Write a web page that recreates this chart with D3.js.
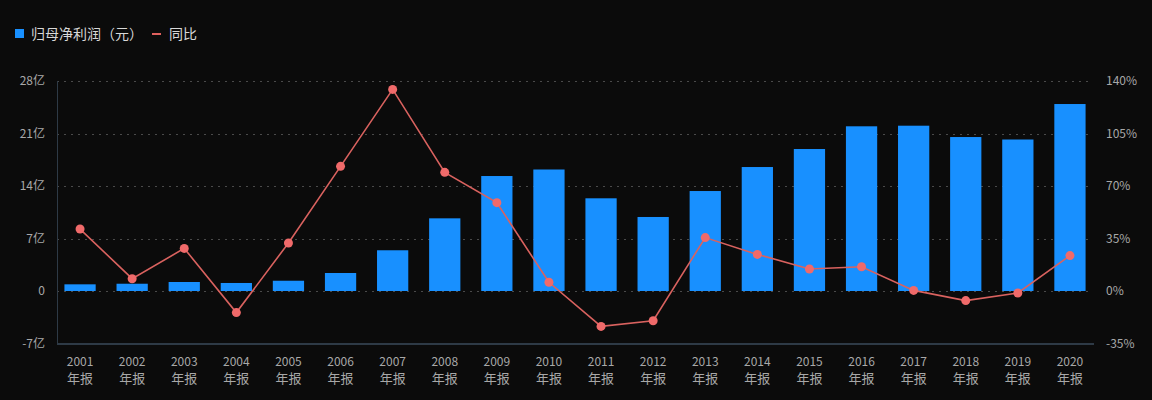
<!DOCTYPE html>
<html><head><meta charset="utf-8">
<script src="https://cdn.jsdelivr.net/npm/d3@7"></script>
<style>
html,body{margin:0;padding:0;background:#0b0b0b;}
svg{display:block;font-family:"Noto Sans CJK SC","Noto Sans",sans-serif;text-spacing-trim:space-all;}
</style></head>
<body>
<svg id="c" width="1152" height="400"></svg>
<script>
const years = ["2001","2002","2003","2004","2005","2006","2007","2008","2009","2010","2011","2012","2013","2014","2015","2016","2017","2018","2019","2020"];
const profit = [0.89,0.97,1.2,1.07,1.37,2.4,5.43,9.69,15.33,16.2,12.36,9.87,13.33,16.53,18.93,21.96,22.04,20.53,20.2,24.93]; // 亿元
const yoy = [41.3,8.2,28.4,-14.4,32.0,83.1,134.4,79.1,58.9,5.8,-23.6,-19.8,35.6,24.4,14.7,16.2,0.4,-6.4,-1.3,23.6]; // %
const leftTicks = [-7,0,7,14,21,28];
const rightTicks = [-35,0,35,70,105,140];
const seriesNames = ["归母净利润（元）","同比"];

const svg = d3.select("#c");
const W = 1152, H = 400;
svg.append("rect").attr("width",W).attr("height",H).attr("fill","#0b0b0b");

const x = d3.scaleBand().domain(years).range([54,1096]).paddingInner(0.4).paddingOuter(0.2);
const yL = d3.scaleLinear().domain([-7,28]).range([343.5,81]);
const yR = d3.scaleLinear().domain([-35,140]).range([343.5,81]);

// grid
svg.append("g").selectAll("line").data(leftTicks.filter(d=>d>-7)).join("line")
  .attr("x1",57).attr("x2",1092)
  .attr("y1",d=>Math.round(yL(d))+0.5).attr("y2",d=>Math.round(yL(d))+0.5)
  .attr("stroke","#4a4a4a").attr("stroke-width",1).attr("stroke-dasharray","2,5");

// axis lines
svg.append("line").attr("x1",57.5).attr("x2",57.5).attr("y1",81).attr("y2",344)
  .attr("stroke","#2e3a46").attr("stroke-width",1);
svg.append("line").attr("x1",57).attr("x2",1094).attr("y1",344).attr("y2",344)
  .attr("stroke","#2e3a46").attr("stroke-width",2);

// bars
svg.append("g").selectAll("rect").data(years).join("rect")
  .attr("x",d=>x(d)).attr("width",x.bandwidth())
  .attr("y",(d,i)=>yL(profit[i])).attr("height",(d,i)=>yL(0)-yL(profit[i]))
  .attr("fill","#1890ff");

// line
const line = d3.line().x((d,i)=>x(years[i])+x.bandwidth()/2).y(d=>yR(d));
svg.append("path").datum(yoy).attr("d",line).attr("fill","none")
  .attr("stroke","#d9625f").attr("stroke-width",1.6);
svg.append("g").selectAll("circle").data(yoy).join("circle")
  .attr("cx",(d,i)=>x(years[i])+x.bandwidth()/2).attr("cy",d=>yR(d)).attr("r",4.5)
  .attr("fill","#f06a6a");

// left tick labels
svg.append("g").selectAll("text").data(leftTicks).join("text")
  .attr("x",45).attr("y",d=>yL(d)+4).attr("text-anchor","end")
  .attr("font-size",12).attr("fill","#a8a8a8")
  .text(d=>d===0?"0":d+"亿");
// right tick labels
svg.append("g").selectAll("text").data(rightTicks).join("text")
  .attr("x",1106).attr("y",d=>yR(d)+4).attr("text-anchor","start")
  .attr("font-size",12).attr("fill","#a8a8a8")
  .text(d=>d+"%");

// x labels
const xl = svg.append("g").selectAll("g").data(years).join("g")
  .attr("transform",d=>`translate(${x(d)+x.bandwidth()/2},0)`);
xl.append("text").attr("y",366).attr("text-anchor","middle").attr("font-size",12).attr("fill","#a8a8a8").text(d=>d);
xl.append("text").attr("y",383).attr("text-anchor","middle").attr("font-size",13).attr("fill","#a8a8a8").text("年报");

// legend
svg.append("rect").attr("x",15).attr("y",29).attr("width",9).attr("height",9).attr("fill","#1890ff");
svg.append("text").attr("x",31).attr("y",39).attr("font-size",14).attr("fill","#d8d8d8").text(seriesNames[0]);
svg.append("line").attr("x1",152).attr("x2",161).attr("y1",34).attr("y2",34).attr("stroke","#e0605e").attr("stroke-width",2);
svg.append("text").attr("x",169).attr("y",39).attr("font-size",14).attr("fill","#d8d8d8").text(seriesNames[1]);
</script>
</body></html>
